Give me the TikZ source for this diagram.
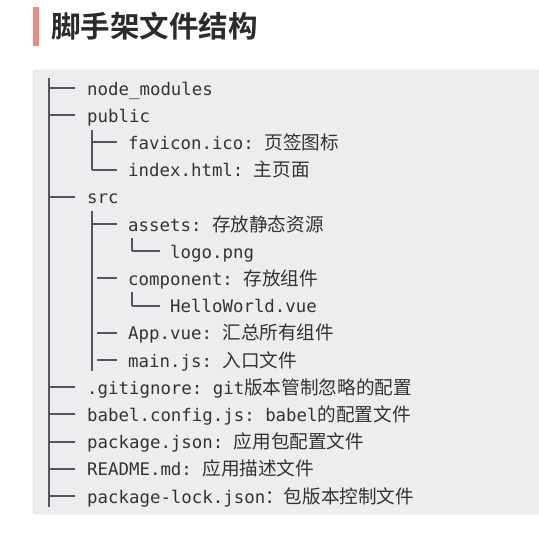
\documentclass[tikz,border=0pt]{standalone}
\usepackage{fontspec}
\setmonofont{DejaVu Sans Mono}
\newfontfamily\cjk{Noto Sans CJK SC}[Scale=1.07]
\newfontfamily\titlecjk{Noto Sans CJK SC Bold}
\newcommand{\zh}[1]{{\cjk #1}}
\definecolor{titlebar}{HTML}{EA8A80}
\definecolor{titletext}{HTML}{2B2B2B}
\definecolor{codebg}{HTML}{ECEDEF}
\definecolor{codeframe}{HTML}{D6D7DA}
\definecolor{codetext}{HTML}{333333}
\definecolor{treeline}{HTML}{55555D}

\begin{document}
\begin{tikzpicture}[x=1pt,y=-1pt,
  entry/.style={anchor=west,inner sep=0pt,text height=17pt,text depth=3pt,
    font=\ttfamily\fontsize{17.4}{20}\selectfont,text=codetext},
  branch/.style={draw=treeline,line width=2pt},
  stem/.style={draw=treeline,line width=2.6pt}]
\useasboundingbox (0,0) rectangle (538,546);
\fill[white] (0,0) rectangle (538,546);
% title
\fill[titlebar] (33,7) rectangle (39,46);
\node[anchor=west,inner sep=0pt,text=titletext,font=\titlecjk\fontsize{29.5}{32}\selectfont] (title) at (51,26) {脚手架文件结构};
% code block
\draw[fill=codebg,draw=codeframe,rounded corners=3pt] (33,70) rectangle (560,514);
\node[entry] (nodemod) at (87,88) {node\_modules};
\node[entry] (public) at (87,115.2) {public};
\node[entry] (favicon) at (128,142.4) {favicon.ico: \zh{页签图标}};
\node[entry] (index) at (128,169.6) {index.html: \zh{主页面}};
\node[entry] (src) at (87,196.8) {src};
\node[entry] (assets) at (128,224) {assets: \zh{存放静态资源}};
\node[entry] (logo) at (170,251.2) {logo.png};
\node[entry] (component) at (128,278.4) {component: \zh{存放组件}};
\node[entry] (helloworld) at (170,305.6) {HelloWorld.vue};
\node[entry] (appvue) at (128,332.8) {App.vue: \zh{汇总所有组件}};
\node[entry] (mainjs) at (128,360) {main.js: \zh{入口文件}};
\node[entry] (gitignore) at (87,387.2) {.gitignore: git\zh{版本管制忽略的配置}};
\node[entry] (babel) at (87,414.4) {babel.config.js: babel\zh{的配置文件}};
\node[entry] (packagejson) at (87,441.6) {package.json: \zh{应用包配置文件}};
\node[entry] (readme) at (87,468.8) {README.md: \zh{应用描述文件}};
\node[entry] (packagelock) at (87,496) {package-lock.json\zh{：包版本控制文件}};
% tree lines
\coordinate (trunktop) at (49,78); \coordinate (trunkbot) at (49,507);
\coordinate (pubtop) at (92,130); \coordinate (pubbot) at (92,169.6);
\coordinate (srctop) at (92,211); \coordinate (srcbot) at (92,371);
\coordinate (logotop) at (132,238); \coordinate (logobot) at (132,251.2);
\coordinate (hellotop) at (132,292); \coordinate (hellobot) at (132,305.6);
\foreach \a/\b in {trunktop/trunkbot,pubtop/pubbot,srctop/srcbot,logotop/logobot,hellotop/hellobot}
  \draw[stem] (\a) -- (\b);
\foreach \n in {nodemod,public,src,gitignore,babel,packagejson,readme,packagelock}
  \draw[branch] (\n.west -| trunkbot) -- ([xshift=-12pt]\n.west);
\foreach \n in {favicon,index,assets}
  \draw[branch] (\n.west -| srcbot) -- ([xshift=-11pt]\n.west);
\foreach \n in {component,appvue,mainjs}
  \draw[branch] ([xshift=5pt]\n.west -| srcbot) -- ([xshift=-11pt]\n.west);
\draw[branch] (logo.west -| logobot) -- ([xshift=-10pt]logo.west);
\draw[branch] (helloworld.west -| hellobot) -- ([xshift=-10pt]helloworld.west);
\end{tikzpicture}
\end{document}
